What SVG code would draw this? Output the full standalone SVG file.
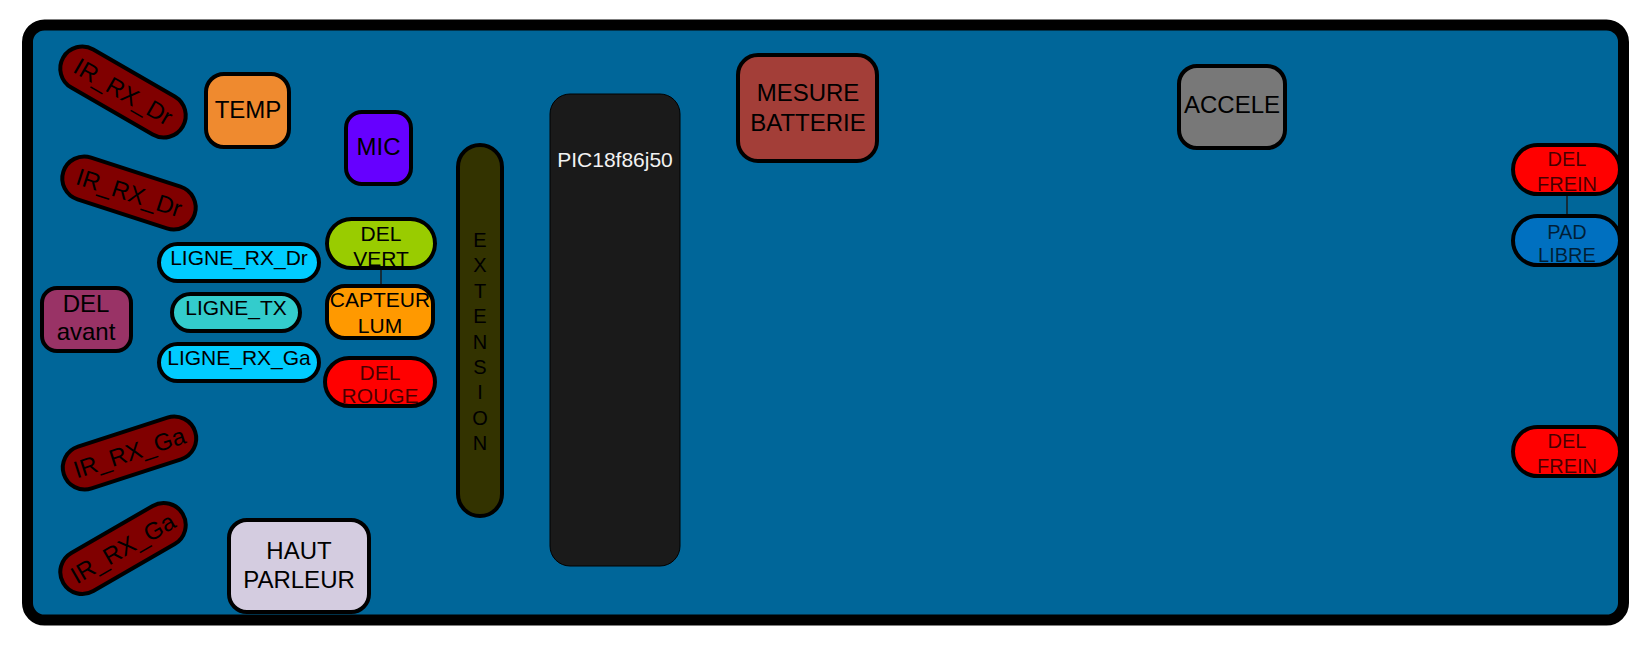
<svg xmlns="http://www.w3.org/2000/svg" width="1651" height="655" viewBox="0 0 1651 655">
<style>
text{font-family:"Liberation Sans",Arial,sans-serif;text-anchor:middle;fill:#000}
.s{stroke:#000;stroke-width:4}
.ol{fill:none;stroke:#000;stroke-width:4}
.t24{font-size:24px}
.t21{font-size:21px}
.t20{font-size:20px}
.dim{fill-opacity:0.72}
.ir{fill:#800000}
.cn{stroke:#1a1a1a;stroke-width:1.5;fill:none}
</style>
<rect width="1651" height="655" fill="#fff"/>
<g id="board">
<rect x="27.5" y="25" width="1596" height="595" rx="17" fill="#006699" stroke="#000" stroke-width="11"/>
</g>
<g id="connectors">
<line class="cn" x1="381" y1="268" x2="381" y2="286"/>
<line class="cn" x1="1567" y1="194" x2="1567" y2="216"/>
</g>
<g id="ir_rx_dr_1" transform="translate(123,92) rotate(30)">
<rect class="ir s" x="-69" y="-22" width="138" height="44" rx="22"/>
<text class="t24" x="0" y="8">IR_RX_Dr</text>
</g>
<g id="ir_rx_dr_2" transform="translate(129,193) rotate(18)">
<rect class="ir s" x="-69" y="-22" width="138" height="44" rx="22"/>
<text class="t24" x="0" y="8">IR_RX_Dr</text>
</g>
<g id="ir_rx_ga_1" transform="translate(129.5,453) rotate(-18)">
<rect class="ir s" x="-69" y="-22" width="138" height="44" rx="22"/>
<text class="t24" x="0" y="8">IR_RX_Ga</text>
</g>
<g id="ir_rx_ga_2" transform="translate(123,548.5) rotate(-30)">
<rect class="ir s" x="-69" y="-22" width="138" height="44" rx="22"/>
<text class="t24" x="0" y="8">IR_RX_Ga</text>
</g>
<g id="temp">
<rect class="s" x="206" y="74" width="83" height="73" rx="18" fill="#EF8A2F"/>
<text class="t24" x="248" y="118">TEMP</text>
</g>
<g id="mic">
<rect class="s" x="346" y="112" width="65" height="72" rx="16" fill="#6600FF"/>
<text class="t24" x="378.5" y="155">MIC</text>
</g>
<g id="del_vert">
<rect x="327" y="219" width="108" height="49" rx="24.5" fill="#99CC00"/>
<text class="t21" x="381" y="241">DEL</text>
<text class="t21" x="381" y="266">VERT</text>
<rect class="ol" x="327" y="219" width="108" height="49" rx="24.5"/>
</g>
<g id="capteur_lum">
<rect class="s" x="327" y="286" width="106" height="52" rx="18" fill="#FF9900"/>
<text class="t21" x="380" y="307">CAPTEUR</text>
<text class="t21" x="380" y="333">LUM</text>
</g>
<g id="del_rouge">
<rect x="325" y="358" width="110" height="48" rx="24" fill="#FF0000"/>
<text class="t21 dim" x="380" y="380">DEL</text>
<text class="t21 dim" x="380" y="403">ROUGE</text>
<rect class="ol" x="325" y="358" width="110" height="48" rx="24"/>
</g>
<g id="ligne_rx_dr">
<rect class="s" x="159" y="244" width="160" height="37" rx="18.5" fill="#00CCFF"/>
<text class="t21" x="239" y="265">LIGNE_RX_Dr</text>
</g>
<g id="ligne_tx">
<rect class="s" x="172" y="294" width="128" height="37" rx="18.5" fill="#33CCCC"/>
<text class="t21" x="236" y="315">LIGNE_TX</text>
</g>
<g id="ligne_rx_ga">
<rect class="s" x="159" y="344" width="160" height="37" rx="18.5" fill="#00CCFF"/>
<text class="t21" x="239" y="365">LIGNE_RX_Ga</text>
</g>
<g id="del_avant">
<rect class="s" x="42" y="288" width="89" height="63" rx="15" fill="#993366"/>
<text class="t24" x="86" y="312">DEL</text>
<text class="t24" x="86" y="340">avant</text>
</g>
<g id="haut_parleur">
<rect class="s" x="229" y="520" width="140" height="92" rx="18" fill="#D4CCE0"/>
<text class="t24" x="299" y="559">HAUT</text>
<text class="t24" x="299" y="588">PARLEUR</text>
</g>
<g id="extension">
<rect class="s" x="458" y="145" width="44" height="371" rx="22" fill="#333300"/>
<text class="t20" x="480" y="247">E</text>
<text class="t20" x="480" y="272">X</text>
<text class="t20" x="480" y="298">T</text>
<text class="t20" x="480" y="323">E</text>
<text class="t20" x="480" y="349">N</text>
<text class="t20" x="480" y="374">S</text>
<text class="t20" x="480" y="399">I</text>
<text class="t20" x="480" y="425">O</text>
<text class="t20" x="480" y="450">N</text>
</g>
<g id="pic">
<rect x="550" y="94" width="130" height="472" rx="20" fill="#1A1A1A" stroke="#000" stroke-width="1"/>
<text class="t21" x="615" y="167" style="fill:#F2F2F2">PIC18f86j50</text>
</g>
<g id="mesure_batterie">
<rect class="s" x="738" y="55" width="139" height="106" rx="20" fill="#A33E38"/>
<text class="t24" x="808" y="101">MESURE</text>
<text class="t24" x="808" y="131">BATTERIE</text>
</g>
<g id="accele">
<rect class="s" x="1179" y="66" width="106" height="82" rx="18" fill="#787878"/>
<text class="t24" x="1232" y="113">ACCELE</text>
</g>
<g id="del_frein_1">
<rect x="1513" y="145" width="107" height="49" rx="24.5" fill="#FF0000"/>
<text class="t20 dim" x="1567" y="166">DEL</text>
<text class="t20 dim" x="1567" y="191">FREIN</text>
<rect class="ol" x="1513" y="145" width="107" height="49" rx="24.5"/>
</g>
<g id="pad_libre">
<rect x="1513" y="216" width="107" height="49" rx="24.5" fill="#0070C0"/>
<text class="t20 dim" x="1567" y="239">PAD</text>
<text class="t20 dim" x="1567" y="262">LIBRE</text>
<rect class="ol" x="1513" y="216" width="107" height="49" rx="24.5"/>
</g>
<g id="del_frein_2">
<rect x="1513" y="427" width="107" height="49" rx="24.5" fill="#FF0000"/>
<text class="t20 dim" x="1567" y="448">DEL</text>
<text class="t20 dim" x="1567" y="473">FREIN</text>
<rect class="ol" x="1513" y="427" width="107" height="49" rx="24.5"/>
</g>
</svg>
